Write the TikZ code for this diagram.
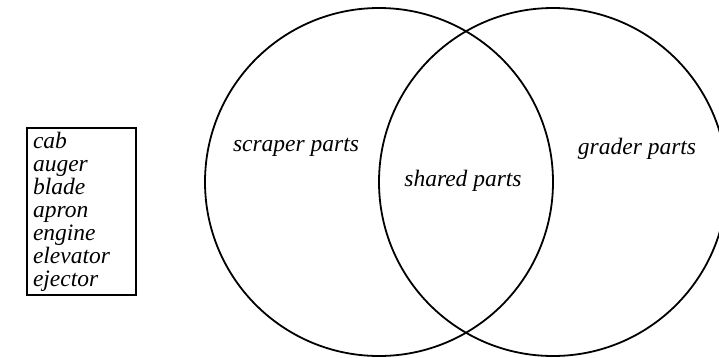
\documentclass[tikz,border=0pt]{standalone}
\usepackage{fontspec}
\setmainfont{Liberation Serif}
\usepackage{tikz}
\usetikzlibrary{positioning}

\begin{document}
\begin{tikzpicture}[x=1pt,y=-1pt,font=\fontsize{23.5}{23}\selectfont\itshape,
  set/.style={circle,draw,line width=1.8pt,minimum size=348pt,inner sep=0pt},
  partlist/.style={draw,line width=2pt,align=left,text width=97pt,inner xsep=6pt,inner ysep=4pt,anchor=north west}]

  \useasboundingbox (0,0) rectangle (719,357);

  \node[set] (scraper) at (379,182) {};
  \node[set] (grader) at (553,182) {};

  \node (scrapertxt) at (296,147) {scraper parts};
  \node (sharedtxt) at (463,181) {shared parts};
  \node (gradertxt) at (637,149) {grader parts};

  \node[partlist] (parts) at (26,127) {cab\\auger\\blade\\apron\\engine\\elevator\\ejector};

\end{tikzpicture}
\end{document}
